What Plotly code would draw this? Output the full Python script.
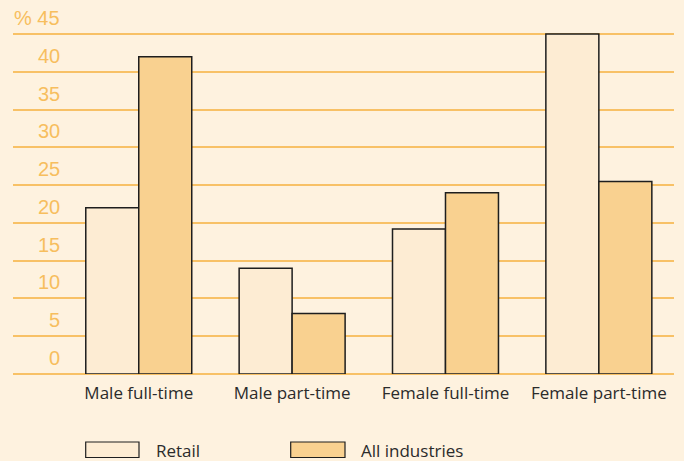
import plotly.graph_objects as go

categories = ["Male full-time", "Male part-time", "Female full-time", "Female part-time"]
series_names = ["Retail", "All industries"]
retail = [22, 14, 19.2, 45]
all_industries = [42, 8, 24, 25.5]
y_ticks = [0, 5, 10, 15, 20, 25, 30, 35, 40, 45]
y_tick_labels = ["0", "5", "10", "15", "20", "25", "30", "35", "40", "% 45"]

BG = "#FEF2DF"
RETAIL_FILL = "#FDECD3"
ALL_FILL = "#F9D190"
GRID = "#F8C166"
YLAB = "#F7BE5E"
TEXT = "#2b2b2b"
FONT = "Open Sans"

fig = go.Figure()
fig.add_bar(x=categories, y=retail, name=series_names[0],
            marker=dict(color=RETAIL_FILL, line=dict(color="#1e1e1e", width=1.5)),
            showlegend=False)
fig.add_bar(x=categories, y=all_industries, name=series_names[1],
            marker=dict(color=ALL_FILL, line=dict(color="#1e1e1e", width=1.5)),
            showlegend=False)

W, H = 684, 461
ml, mr, mt, mb = 13, 10, 19, 87
pw = W - ml - mr
ph = H - mt - mb

def px_x(p):
    return (p - ml) / pw

def px_y(p):
    return (H - mb - p) / ph

annotations = []
for v, lab in zip(y_ticks, y_tick_labels):
    annotations.append(dict(x=px_x(62), y=v, xref="paper", yref="y", text=lab,
                            xanchor="right", yanchor="middle", yshift=16, showarrow=False,
                            font=dict(family="Liberation Sans", size=20, color=YLAB)))

shapes = []
legend_items = [(series_names[0], RETAIL_FILL, 85.7, 139, 154),
                (series_names[1], ALL_FILL, 290.7, 345, 359)]
for name, col, x0, x1, tx in legend_items:
    shapes.append(dict(type="rect", xref="paper", yref="paper",
                       x0=px_x(x0), x1=px_x(x1), y0=px_y(457.5), y1=px_y(442),
                       fillcolor=col, line=dict(color="#1e1e1e", width=1.2)))
    annotations.append(dict(x=px_x(tx), y=px_y(450), xref="paper", yref="paper", text=name,
                            xanchor="left", yanchor="middle", showarrow=False,
                            font=dict(family=FONT, size=17, color=TEXT)))

fig.update_layout(
    width=W, height=H,
    margin=dict(l=ml, r=mr, t=mt, b=mb),
    paper_bgcolor=BG, plot_bgcolor=BG,
    barmode="group", bargap=0.309, bargroupgap=0,
    font=dict(family=FONT, size=17, color=TEXT),
    xaxis=dict(type="category", range=[-0.82, 3.49], showgrid=False, zeroline=False,
               showline=False, ticks="", tickfont=dict(family=FONT, size=17, color=TEXT),
               ticklabelstandoff=7),
    yaxis=dict(range=[0, 47], tickvals=y_ticks, showticklabels=False, showgrid=True,
               gridcolor=GRID, gridwidth=1.6, zeroline=True, zerolinecolor=GRID,
               zerolinewidth=1.6, showline=False, ticks=""),
    annotations=annotations,
    shapes=shapes,
)

fig.write_html("out.html")
